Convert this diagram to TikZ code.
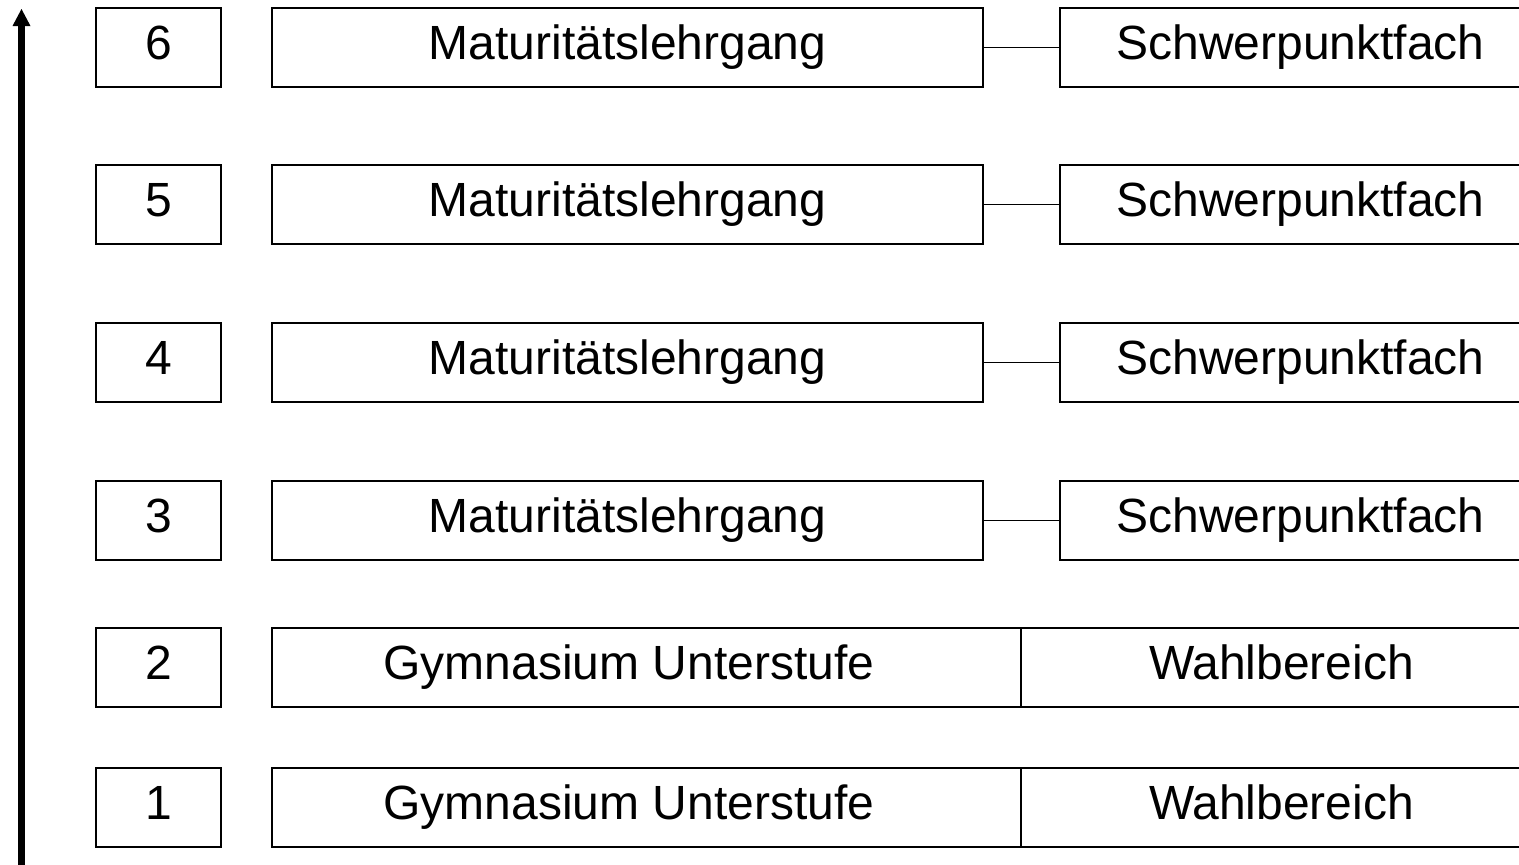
\documentclass[tikz,border=0pt]{standalone}
\usepackage{fontspec}
\setmainfont{Liberation Sans}
\usetikzlibrary{arrows.meta}
\tikzset{
  box/.style={draw=black, line width=2.8pt, rectangle, inner sep=0pt, minimum height=79pt,
    text height=34pt, text depth=11pt, font=\fontsize{48}{58}\selectfont},
  numbox/.style={box, minimum width=125pt},
  matbox/.style={box, minimum width=711pt},
  spbox/.style={box, minimum width=481pt},
  gymbox/.style={box, minimum width=749pt},
  wahlbox/.style={box, minimum width=521pt},
  plain/.style={inner sep=0pt, text height=34pt, text depth=11pt, font=\fontsize{48}{58}\selectfont},
  link/.style={line width=1.6pt, draw=black},
  timeaxis/.style={line width=6.5pt, draw=black},
  axishead/.style={fill=black}
}
\begin{document}
\begin{tikzpicture}[x=1pt,y=-1pt]
\useasboundingbox (0,0) rectangle (1519,865);
% time axis
\coordinate (abot) at (21.5,880);
\coordinate (atop) at (21.5,9);
\coordinate (abase) at (21.5,26);
\draw[timeaxis] (abot) -- (abase);
\fill[axishead] (atop) -- ([xshift=-9pt]abase) -- ([xshift=9pt]abase) -- cycle;
% rows 3-6
\foreach \n/\y in {6/47.5,5/204.5,4/362.5,3/520.5}{
  \node[numbox] (num\n) at (158.5,\y) {\n};
  \node[matbox] (mat\n) at (627.5,\y) {Maturitätslehrgang};
  \node[spbox] (sp\n) at (1300.5,\y) {Schwerpunktfach};
  \draw[link] (mat\n.east) -- (sp\n.west);
}
% rows 1-2
\foreach \n/\y in {2/667.5,1/807.5}{
  \node[numbox] (num\n) at (158.5,\y) {\n};
  \node[gymbox] (gym\n) at (646.5,\y) {};
  \node[plain] (gymtext\n) at (629,\y) {Gymnasium Unterstufe};
  \node[wahlbox] (wahl\n) at (1281.5,\y) {Wahlbereich};
}
\end{tikzpicture}
\end{document}
